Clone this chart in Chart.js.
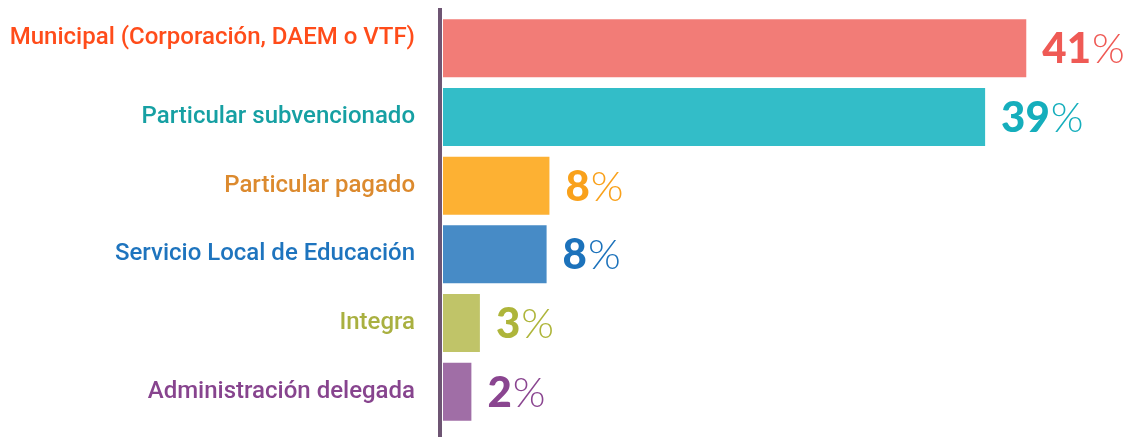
<!DOCTYPE html>
<html>
<head>
<meta charset="utf-8">
<script src="https://cdn.jsdelivr.net/npm/chart.js@4.4.1/dist/chart.umd.min.js"></script>
<style>
  html,body{margin:0;padding:0;background:#fff;}
  #wrap{width:1128px;height:437px;position:relative;}
</style>
</head>
<body>
<div id="wrap"><canvas id="c"></canvas></div>
<script>
/* ── DATA ── */
const categories = ['Municipal (Corporación, DAEM o VTF)','Particular subvencionado','Particular pagado','Servicio Local de Educación','Integra','Administración delegada'];
const values     = [41.1, 38.2, 7.5, 7.3, 2.6, 2.0];
const pctLabels  = ['41','39','8','8','3','2'];
const barColors  = ['#F27C77','#33BDC8','#FDB133','#478BC6','#C0C468','#A06EA6'];
const textColors = ['#FF4C1A','#16A0A3','#DC8A2E','#1E74BE','#A9B040','#87448E'];
const pctColors  = ['#EF5A55','#15AEBC','#F9A11B','#1C72BB','#AEB53A','#8A4590'];

// vertical axis line, a bit taller than the plot area
const axisLine = {
  id:'axisLine',
  afterDatasetsDraw(chart){
    const ctx=chart.ctx, x=chart.scales.x.getPixelForValue(0);
    ctx.save();
    ctx.fillStyle='#6E5573';
    ctx.fillRect(x-5, 8, 4, chart.height-8);
    ctx.restore();
  }
};

// big bold number + thin % sign at the bar end
const pctLabel = {
  id:'pctLabel',
  afterDatasetsDraw(chart){
    const ctx=chart.ctx;
    chart.getDatasetMeta(0).data.forEach((bar,i)=>{
      const x=bar.x+16, y=bar.y+15;
      ctx.save();
      ctx.fillStyle=pctColors[i];
      ctx.textBaseline='alphabetic';
      ctx.font='900 42px Lato, Roboto, sans-serif';
      ctx.fillText(pctLabels[i], x, y);
      const w=ctx.measureText(pctLabels[i]).width;
      ctx.font='300 42px Lato, Roboto, sans-serif';
      ctx.fillText('%', x+w+1, y);
      ctx.restore();
    });
  }
};

new Chart(document.getElementById('c').getContext('2d'),{
  type:'bar',
  data:{ labels:categories,
    datasets:[{ data:values, backgroundColor:barColors, borderWidth:0,
                categoryPercentage:1, barPercentage:0.845 }]
  },
  options:{
    indexAxis:'y', responsive:true, maintainAspectRatio:false, animation:false,
    layout:{ padding:{ top:14, bottom:11, right:18, left:0 } },
    plugins:{ legend:{display:false}, tooltip:{enabled:false} },
    scales:{
      x:{ display:false, min:0, max:47 },
      y:{
        afterFit(s){ s.width=443; s.paddingTop=0; s.paddingBottom=0; },
        grid:{ display:false, drawTicks:false }, border:{ display:false },
        ticks:{ padding:28, color:textColors,
                // first label sits a little above its bar in the original
                callback(v,i){ const l=this.getLabelForValue(v); return i===0 ? [l,''] : l; },
                font:{ family:'Roboto', size:24, weight:'500', lineHeight:20/24 } }
      }
    }
  },
  plugins:[axisLine, pctLabel]
});
</script>
</body>
</html>
